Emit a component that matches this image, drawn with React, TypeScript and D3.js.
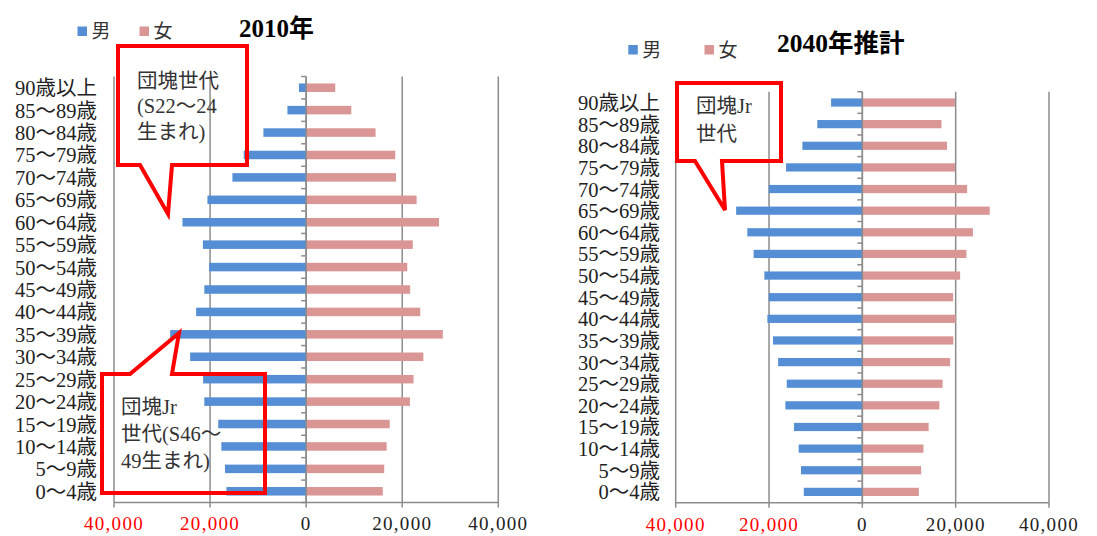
import React from 'react';
import * as d3 from 'd3';

// age groups, top to bottom
const ageGroups = [
  '90歳以上', '85～89歳', '80～84歳', '75～79歳', '70～74歳', '65～69歳', '60～64歳',
  '55～59歳', '50～54歳', '45～49歳', '40～44歳', '35～39歳', '30～34歳', '25～29歳',
  '20～24歳', '15～19歳', '10～14歳', '5～9歳', '0～4歳',
];

const male2010 = [
  1500, 3900, 8900, 13000, 15350, 20550, 25750, 21500, 20200, 21200,
  22900, 28300, 24150, 21450, 21200, 18300, 17650, 16900, 16600,
];
const female2010 = [
  6050, 9400, 14450, 18550, 18700, 23000, 27650, 22200, 21050, 21650,
  23750, 28450, 24400, 22350, 21600, 17400, 16750, 16250, 15950,
];

const male2040 = [
  6700, 9650, 12850, 16350, 20050, 27050, 24650, 23300, 21000, 20050,
  20350, 19150, 18050, 16200, 16500, 14650, 13650, 13150, 12550,
];
const female2040 = [
  19850, 16950, 18150, 19850, 22450, 27300, 23700, 22300, 20950, 19450,
  20000, 19500, 18800, 17200, 16500, 14200, 13100, 12600, 12100,
];

const xTicks = [-40000, -20000, 0, 20000, 40000];
const legendLabels = ['男', '女'];

const BLUE = '#558ed5';
const PINK = '#d99694';
const GRID = '#8c8c8c';
const SERIF = "'Liberation Serif', 'Noto Sans CJK JP', serif";

type Layout = {
  x0: number; x1: number; y0: number; y1: number;
  labelX: number; tickY: number;
  legendX: number[]; legendY: number; legendTextY: number;
  titleX: number; titleY: number; titleSize: number;
};

type Callout = { points: [number, number][]; textX: number; lines: string[]; lineY: number[] };

const Pyramid = ({ male, female, title, layout, callouts }: {
  male: number[]; female: number[]; title: string; layout: Layout; callouts: Callout[];
}) => {
  const L = layout;
  const x = d3.scaleLinear().domain([-40000, 40000]).range([L.x0, L.x1]);
  const y = d3.scaleBand().domain(ageGroups).range([L.y0, L.y1]).paddingInner(0.62).paddingOuter(0.31);
  const band = d3.scaleBand().domain(ageGroups).range([L.y0, L.y1]);
  const fmt = d3.format(',');
  const boundaries = ageGroups.map(a => band(a)!).concat([L.y1]);

  return (
    <g>
      {/* legend + title */}
      {legendLabels.map((lab, i) => (
        <g key={lab}>
          <rect x={L.legendX[i]} y={L.legendY} width={9.5} height={9.5} fill={i === 0 ? BLUE : PINK} />
          <text x={L.legendX[i] + 14} y={L.legendTextY} fontSize={19} fill="#333" fontFamily={SERIF}>{lab}</text>
        </g>
      ))}
      <text x={L.titleX} y={L.titleY} fontSize={L.titleSize} fontWeight="bold" fill="#000" fontFamily={SERIF}>{title}</text>

      {/* grid */}
      {xTicks.map(t => (
        <line key={t} x1={x(t)} x2={x(t)} y1={L.y0} y2={L.y1 + 5} stroke={GRID} strokeWidth={1.5} />
      ))}
      <line x1={L.x0} x2={L.x1} y1={L.y1} y2={L.y1} stroke={GRID} strokeWidth={1.5} />

      {/* bars */}
      {ageGroups.map((a, i) => (
        <g key={a}>
          <rect x={x(-male[i])} y={y(a)} width={x(0) - x(-male[i])} height={y.bandwidth()} fill={BLUE} />
          <rect x={x(0)} y={y(a)} width={x(female[i]) - x(0)} height={y.bandwidth()} fill={PINK} />
        </g>
      ))}

      {/* category axis */}
      {boundaries.map((b, i) => (
        <line key={i} x1={x(0) - 5} x2={x(0)} y1={b} y2={b} stroke={GRID} strokeWidth={1.5} />
      ))}
      <line x1={x(0)} x2={x(0)} y1={L.y0} y2={L.y1} stroke={GRID} strokeWidth={1.5} />

      {ageGroups.map(a => (
        <text key={a} x={L.labelX} y={band(a)! + band.bandwidth() / 2 + 7.5} textAnchor="end"
          fontSize={20.5} fill="#222" fontFamily={SERIF}>{a}</text>
      ))}

      {xTicks.map(t => (
        <text key={t} x={x(t)} y={L.tickY} textAnchor="middle" fontSize={19} letterSpacing={1.3}
          fill={t < 0 ? '#ff0000' : '#222'} fontFamily={SERIF}>{fmt(Math.abs(t))}</text>
      ))}

      {/* annotations */}
      {callouts.map((c, k) => (
        <g key={k}>
          <polygon points={c.points.map(p => p.join(',')).join(' ')} fill="none" stroke="#ff0000"
            strokeWidth={4} strokeLinejoin="miter" />
          {c.lines.map((ln, j) => (
            <text key={j} x={c.textX} y={c.lineY[j]} fontSize={20.5} fill="#333" fontFamily={SERIF}>{ln}</text>
          ))}
        </g>
      ))}
    </g>
  );
};

const leftLayout: Layout = {
  x0: 114, x1: 498.3, y0: 76.5, y1: 502.5,
  labelX: 97, tickY: 530,
  legendX: [77.5, 139.5], legendY: 26.5, legendTextY: 38,
  titleX: 239, titleY: 37, titleSize: 25,
};

const rightLayout: Layout = {
  x0: 675.7, x1: 1049, y0: 91.7, y1: 502.7,
  labelX: 660, tickY: 531,
  legendX: [628.3, 704.5], legendY: 45, legendTextY: 57,
  titleX: 777, titleY: 52, titleSize: 25.5,
};

const leftCallouts: Callout[] = [
  {
    points: [[118, 46], [247, 46], [247, 165], [172, 165], [168, 214], [140, 165], [118, 165]],
    textX: 137, lines: ['団塊世代', '(S22～24', '生まれ)'], lineY: [88, 113, 139],
  },
  {
    points: [[102, 374], [130, 374], [179, 333], [172, 374], [265, 374], [265, 493], [102, 493]],
    textX: 121, lines: ['団塊Jr', '世代(S46～', '49生まれ)'], lineY: [414, 441, 468],
  },
];

const rightCallouts: Callout[] = [
  {
    points: [[677, 83], [781, 83], [781, 161], [722, 161], [725, 210], [695, 161], [677, 161]],
    textX: 696, lines: ['団塊Jr', '世代'], lineY: [113, 141],
  },
];

export default function App() {
  return (
    <svg width={1097} height={536} style={{ position: 'absolute', left: 0, top: 0, background: '#fff' }}>
      <rect width={1097} height={536} fill="#fff" />
      <Pyramid male={male2010} female={female2010} title="2010年" layout={leftLayout} callouts={leftCallouts} />
      <Pyramid male={male2040} female={female2040} title="2040年推計" layout={rightLayout} callouts={rightCallouts} />
    </svg>
  );
}
